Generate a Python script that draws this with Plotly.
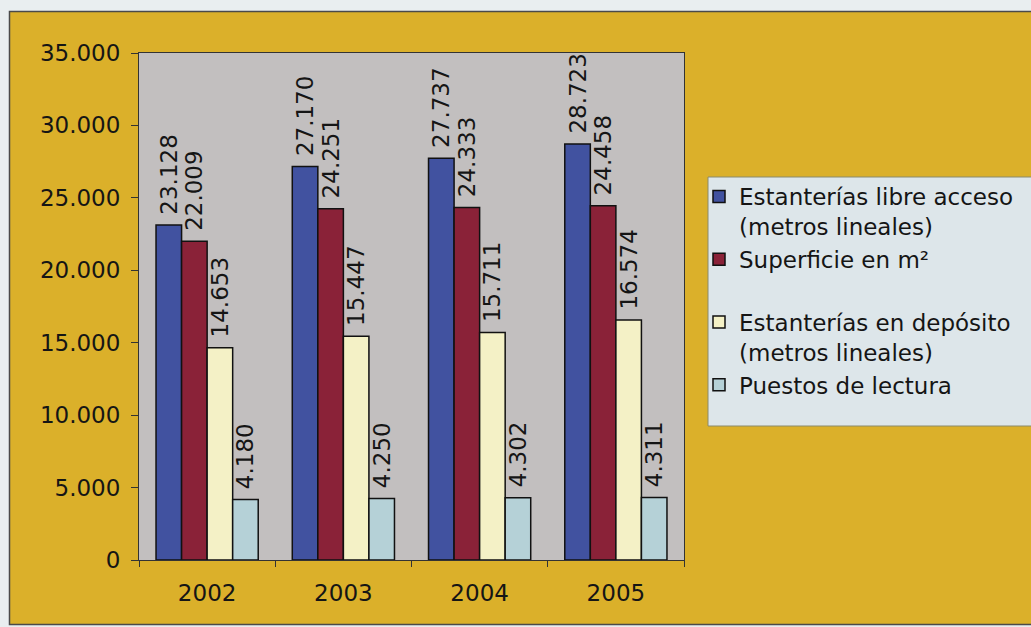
import plotly.graph_objects as go

# Years and series values
years = ["2002", "2003", "2004", "2005"]
libre_acceso = [23128, 27170, 27737, 28723]
superficie = [22009, 24251, 24333, 24458]
deposito = [14653, 15447, 15711, 16574]
puestos = [4180, 4250, 4302, 4311]

series_names = [
    "Estanterías libre acceso<br>(metros lineales)",
    "Superficie en m²<br> ",
    "Estanterías en depósito<br>(metros lineales)",
    "Puestos de lectura",
]
series_values = [libre_acceso, superficie, deposito, puestos]
series_colors = ["#4152a0", "#8a2238", "#f4f1c6", "#b5d1d7"]

FONT = "DejaVu Sans, Verdana, sans-serif"
W, H = 1031, 627
L, R, T, B = 139, 684, 53, 560  # plot area in pixels


def px_x(x):
    return (x - L) / (R - L)


def px_y(y):
    return (B - y) / (B - T)


fig = go.Figure()
for name, vals, col in zip(series_names, series_values, series_colors):
    fig.add_trace(go.Bar(
        x=years, y=vals, name=name,
        marker=dict(color=col, line=dict(color="#111111", width=1.5)),
        texttemplate="\u00a0%{y:,}", textposition="outside", textangle=-90,
        textfont=dict(family=FONT, size=23, color="#151515"),
        constraintext="none", cliponaxis=False,
    ))

shapes = [
    # light page edges around the golden frame
    dict(type="rect", xref="paper", yref="paper", layer="above",
         x0=px_x(-5), x1=px_x(9), y0=px_y(-5), y1=px_y(W), fillcolor="#e9eef0", line_width=0),
    dict(type="rect", xref="paper", yref="paper", layer="above",
         x0=px_x(-5), x1=px_x(W + 5), y0=px_y(-5), y1=px_y(11), fillcolor="#e9eef0", line_width=0),
    dict(type="rect", xref="paper", yref="paper", layer="above",
         x0=px_x(-5), x1=px_x(W + 5), y0=px_y(625), y1=px_y(H + 5), fillcolor="#e9eef0", line_width=0),
    # dark frame line
    dict(type="rect", xref="paper", yref="paper", layer="above",
         x0=px_x(9.5), x1=px_x(W + 20), y0=px_y(11.5), y1=px_y(624.5),
         line=dict(color="#4a4a4a", width=1.5), fillcolor="rgba(0,0,0,0)"),
    # legend panel
    dict(type="rect", xref="paper", yref="paper", layer="below",
         x0=px_x(708), x1=px_x(W + 20), y0=px_y(177), y1=px_y(426),
         line=dict(color="#8a8a6a", width=1), fillcolor="#dde6ea"),
]

fig.update_layout(
    width=W, height=H,
    margin=dict(l=L, r=W - R, t=T, b=H - B, autoexpand=False),
    paper_bgcolor="#dbb02a",
    plot_bgcolor="#c2bfbf",
    separators=",.",
    barmode="group", bargap=0.25, bargroupgap=0,
    font=dict(family=FONT, color="#151515"),
    showlegend=True,
    legend=dict(
        x=px_x(699), y=px_y(175), xanchor="left", yanchor="top",
        bgcolor="rgba(0,0,0,0)", borderwidth=0,
        font=dict(family=FONT, size=23, color="#151515"),
        valign="top", traceorder="normal", itemwidth=30,
    ),
    shapes=shapes,
    xaxis=dict(
        type="category", tickson="boundaries", ticks="outside", ticklen=6,
        tickcolor="#333333", showline=True, linecolor="#333333", linewidth=1,
        mirror=True, showgrid=False,
        tickfont=dict(family=FONT, size=23, color="#151515"),
        ticklabelstandoff=12,
    ),
    yaxis=dict(
        range=[0, 35000], dtick=5000, tickformat=",", ticks="outside", ticklen=7,
        tickcolor="#333333", showline=True, linecolor="#333333", linewidth=1,
        mirror=True, showgrid=False, zeroline=False,
        tickfont=dict(family=FONT, size=23, color="#151515"),
        ticklabelstandoff=6,
    ),
)

fig.write_html("out.html")
